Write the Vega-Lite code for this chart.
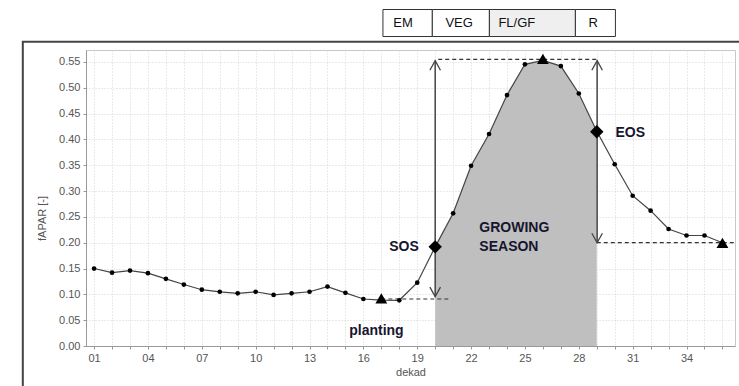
{
  "$schema": "https://vega.github.io/schema/vega-lite/v6.json",
  "width": 649,
  "height": 296,
  "autosize": {"type": "none"},
  "padding": {"left": 86, "top": 50, "right": 4, "bottom": 40},
  "background": "white",
  "config": {
    "font": "Liberation Sans",
    "view": {"stroke": "#c8c8c8", "strokeWidth": 1}
  },
  "datasets": {
    "series": [
      {"dekad": 1, "fapar": 0.150}, {"dekad": 2, "fapar": 0.142}, {"dekad": 3, "fapar": 0.146},
      {"dekad": 4, "fapar": 0.141}, {"dekad": 5, "fapar": 0.130}, {"dekad": 6, "fapar": 0.119},
      {"dekad": 7, "fapar": 0.109}, {"dekad": 8, "fapar": 0.105}, {"dekad": 9, "fapar": 0.102},
      {"dekad": 10, "fapar": 0.105}, {"dekad": 11, "fapar": 0.099}, {"dekad": 12, "fapar": 0.102},
      {"dekad": 13, "fapar": 0.105}, {"dekad": 14, "fapar": 0.115}, {"dekad": 15, "fapar": 0.103},
      {"dekad": 16, "fapar": 0.091}, {"dekad": 17, "fapar": 0.089}, {"dekad": 18, "fapar": 0.0885},
      {"dekad": 19, "fapar": 0.1226}, {"dekad": 20, "fapar": 0.192}, {"dekad": 21, "fapar": 0.257},
      {"dekad": 22, "fapar": 0.349}, {"dekad": 23, "fapar": 0.4105}, {"dekad": 24, "fapar": 0.486},
      {"dekad": 25, "fapar": 0.5455}, {"dekad": 26, "fapar": 0.553}, {"dekad": 27, "fapar": 0.542},
      {"dekad": 28, "fapar": 0.489}, {"dekad": 29, "fapar": 0.416}, {"dekad": 30, "fapar": 0.352},
      {"dekad": 31, "fapar": 0.291}, {"dekad": 32, "fapar": 0.262}, {"dekad": 33, "fapar": 0.2266},
      {"dekad": 34, "fapar": 0.214}, {"dekad": 35, "fapar": 0.214}, {"dekad": 36, "fapar": 0.200}
    ],
    "dashes": [
      {"from": 17, "to": 20.73, "level": 0.091},
      {"from": 20.17, "to": 29.04, "level": 0.555},
      {"from": 29.0, "to": 36.7, "level": 0.200}
    ],
    "arrows": [
      {"dekad": 20.0, "lo": 0.0955, "hi": 0.5525},
      {"dekad": 29.02, "lo": 0.200, "hi": 0.5525}
    ],
    "triangles": [
      {"dekad": 17, "fapar": 0.0924},
      {"dekad": 26, "fapar": 0.556},
      {"dekad": 36, "fapar": 0.1995}
    ],
    "diamonds": [
      {"dekad": 20, "fapar": 0.192},
      {"dekad": 29, "fapar": 0.415}
    ],
    "labels": [
      {"dekad": 17.44, "fapar": 0.192, "text": "SOS"},
      {"dekad": 30.04, "fapar": 0.413, "text": "EOS"},
      {"dekad": 22.46, "fapar": 0.2285, "text": "GROWING"},
      {"dekad": 22.46, "fapar": 0.1923, "text": "SEASON"},
      {"dekad": 15.21, "fapar": 0.0297, "text": "planting"}
    ],
    "boxes": [
      {"phase": "EM", "start": 17.09, "end": 19.84, "textAt": 17.67},
      {"phase": "VEG", "start": 19.84, "end": 23.02, "textAt": 20.57},
      {"phase": "FL/GF", "start": 23.02, "end": 27.81, "textAt": 23.52},
      {"phase": "R", "start": 27.81, "end": 30.04, "textAt": 28.54}
    ],
    "frame": [
      {"left": -2.97, "right": 45, "top": 0.589, "bottom": -0.3}
    ]
  },
  "encoding": {
    "x": {
      "type": "quantitative",
      "scale": {"domain": [0.55, 36.7], "nice": false, "zero": false}
    },
    "y": {
      "type": "quantitative",
      "scale": {"domain": [0, 0.5732], "nice": false, "zero": false}
    }
  },
  "layer": [
    {
      "data": {"name": "series"},
      "transform": [{"filter": "datum.dekad >= 20 && datum.dekad <= 29"}],
      "mark": {"type": "area", "color": "#bfbfbf", "clip": true},
      "encoding": {
        "x": {
          "field": "dekad", "type": "quantitative", "title": "dekad",
          "axis": {
            "values": [1,2,3,4,5,6,7,8,9,10,11,12,13,14,15,16,17,18,19,20,21,22,23,24,25,26,27,28,29,30,31,32,33,34,35,36],
            "tickCount": 100,
            "labelExpr": "(datum.value - 1) % 3 == 0 ? (datum.value < 10 ? '0' + datum.value : '' + datum.value) : ''",
            "labelOverlap": false, "labelBound": false, "labelFlush": false,
            "labelFontSize": 11, "labelColor": "#555", "labelPadding": 3,
            "tickSize": 3, "tickColor": "#999", "domainColor": "#999",
            "grid": true, "gridColor": "#d4d4d4", "gridDash": [1, 2],
            "titleFontSize": 11, "titleFontWeight": "normal", "titleColor": "#555", "titlePadding": 3
          }
        },
        "y": {
          "field": "fapar", "type": "quantitative", "title": "fAPAR [-]",
          "axis": {
            "values": [0, 0.05, 0.1, 0.15, 0.2, 0.25, 0.3, 0.35, 0.4, 0.45, 0.5, 0.55],
            "tickCount": 100,
            "format": ".2f",
            "labelOverlap": false, "labelBound": false, "labelFlush": false,
            "labelFontSize": 11, "labelColor": "#555", "labelPadding": 3,
            "tickSize": 3, "tickColor": "#999", "domainColor": "#999",
            "grid": true, "gridColor": "#d4d4d4", "gridDash": [1, 2],
            "titleFontSize": 11, "titleFontWeight": "normal", "titleColor": "#555",
            "titleX": -39, "titleY": 168
          }
        }
      }
    },
    {
      "data": {"name": "dashes"},
      "mark": {"type": "rule", "color": "#333", "strokeWidth": 1.2, "strokeDash": [4, 3]},
      "encoding": {
        "x": {"field": "from", "type": "quantitative"},
        "x2": {"field": "to"},
        "y": {"field": "level", "type": "quantitative"}
      }
    },
    {
      "data": {"name": "arrows"},
      "mark": {"type": "rule", "color": "#444", "strokeWidth": 1.5},
      "encoding": {
        "x": {"field": "dekad", "type": "quantitative"},
        "y": {"field": "lo", "type": "quantitative"},
        "y2": {"field": "hi"}
      }
    },
    {
      "data": {"name": "arrows"},
      "mark": {"type": "point", "shape": "M-1,1.8L0,0L1,1.8", "filled": false, "stroke": "#444", "strokeWidth": 1.3, "size": 112, "opacity": 1},
      "encoding": {
        "x": {"field": "dekad", "type": "quantitative"},
        "y": {"field": "hi", "type": "quantitative"}
      }
    },
    {
      "data": {"name": "arrows"},
      "mark": {"type": "point", "shape": "M-1,-1.8L0,0L1,-1.8", "filled": false, "stroke": "#444", "strokeWidth": 1.3, "size": 112, "opacity": 1},
      "encoding": {
        "x": {"field": "dekad", "type": "quantitative"},
        "y": {"field": "lo", "type": "quantitative"}
      }
    },
    {
      "data": {"name": "series"},
      "mark": {"type": "line", "color": "#444", "strokeWidth": 1.2},
      "encoding": {
        "x": {"field": "dekad", "type": "quantitative"},
        "y": {"field": "fapar", "type": "quantitative"}
      }
    },
    {
      "data": {"name": "series"},
      "mark": {"type": "circle", "color": "#000", "size": 22, "opacity": 1},
      "encoding": {
        "x": {"field": "dekad", "type": "quantitative"},
        "y": {"field": "fapar", "type": "quantitative"}
      }
    },
    {
      "data": {"name": "triangles"},
      "mark": {"type": "point", "shape": "triangle-up", "filled": true, "color": "#000", "size": 140, "opacity": 1},
      "encoding": {
        "x": {"field": "dekad", "type": "quantitative"},
        "y": {"field": "fapar", "type": "quantitative"}
      }
    },
    {
      "data": {"name": "diamonds"},
      "mark": {"type": "point", "shape": "diamond", "filled": true, "color": "#000", "size": 180, "opacity": 1},
      "encoding": {
        "x": {"field": "dekad", "type": "quantitative"},
        "y": {"field": "fapar", "type": "quantitative"}
      }
    },
    {
      "data": {"name": "labels"},
      "mark": {"type": "text", "align": "left", "baseline": "middle", "fontSize": 14, "fontWeight": "bold", "color": "#161630"},
      "encoding": {
        "x": {"field": "dekad", "type": "quantitative"},
        "y": {"field": "fapar", "type": "quantitative"},
        "text": {"field": "text"}
      }
    },
    {
      "data": {"name": "boxes"},
      "mark": {"type": "rect", "stroke": "#333", "strokeWidth": 1, "clip": false},
      "encoding": {
        "x": {"field": "start", "type": "quantitative"},
        "x2": {"field": "end"},
        "y": {"datum": 0.5993, "type": "quantitative"},
        "y2": {"datum": 0.6516},
        "fill": {
          "field": "phase", "type": "nominal", "legend": null,
          "scale": {"domain": ["EM", "VEG", "FL/GF", "R"], "range": ["#ffffff", "#ffffff", "#efefef", "#ffffff"]}
        }
      }
    },
    {
      "data": {"name": "boxes"},
      "mark": {"type": "text", "align": "left", "baseline": "middle", "fontSize": 13, "color": "#111", "clip": false},
      "encoding": {
        "x": {"field": "textAt", "type": "quantitative"},
        "y": {"datum": 0.626, "type": "quantitative"},
        "text": {"field": "phase"}
      }
    },
    {
      "data": {"name": "frame"},
      "mark": {"type": "rect", "fill": null, "fillOpacity": 0, "stroke": "#444", "strokeWidth": 2, "clip": false},
      "encoding": {
        "x": {"field": "left", "type": "quantitative"},
        "x2": {"field": "right"},
        "y": {"field": "top", "type": "quantitative"},
        "y2": {"field": "bottom"}
      }
    }
  ]
}
